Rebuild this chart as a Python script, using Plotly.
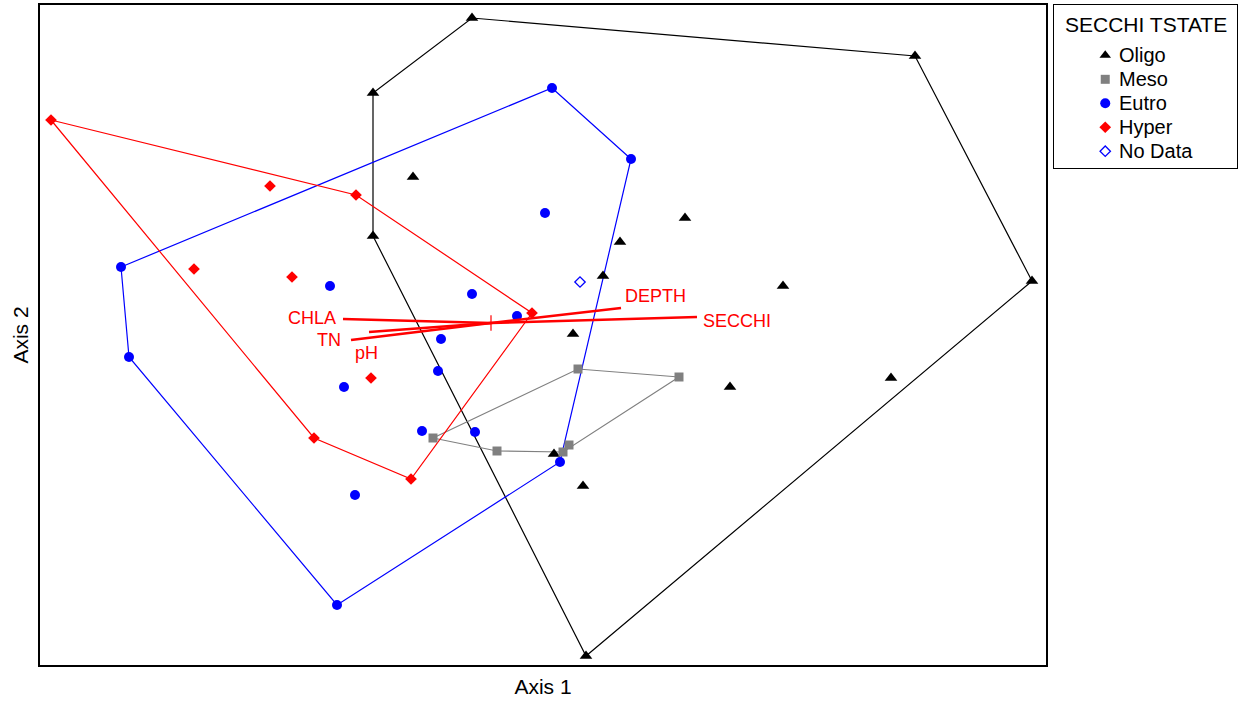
import plotly.graph_objects as go

# ---------------- data (site scores on the two ordination axes) ----------------
oligo_x = [3.33, 4.32, 8.75, 9.92, 5.46, 3.33, 3.73, 6.45, 5.80, 5.63, 7.43, 5.33, 6.90, 8.51, 5.14, 5.43]
oligo_y = [5.72, 6.47, 6.09, 3.84, 0.09, 4.29, 4.88, 4.47, 4.23, 3.89, 3.79, 3.31, 2.78, 2.87, 2.11, 1.79]

meso_x = [3.93, 5.38, 6.39, 5.29, 5.23, 4.57]
meso_y = [2.27, 2.96, 2.88, 2.20, 2.13, 2.14]

eutro_x = [5.12, 5.91, 5.20, 2.97, 0.89, 0.81, 5.05, 2.90, 4.32, 4.77, 4.01, 3.98, 3.04, 3.82, 4.35, 3.15]
eutro_y = [5.77, 5.06, 2.03, 0.60, 3.08, 3.98, 4.52, 3.79, 3.71, 3.49, 3.26, 2.94, 2.78, 2.34, 2.33, 1.70]

hyper_x = [0.11, 3.16, 4.92, 3.71, 2.74, 2.30, 1.54, 2.52, 3.31]
hyper_y = [5.45, 4.70, 3.52, 1.86, 2.27, 4.79, 3.96, 3.88, 2.87]

nodata_x = [5.40]
nodata_y = [3.83]

# biplot vectors (environmental variables)
centroid = (4.51, 3.42)
vec_names = ["CHLA", "TN", "pH", "DEPTH", "SECCHI"]
vec_x = [3.03, 3.11, 3.29, 5.81, 6.57]
vec_y = [3.46, 3.25, 3.33, 3.57, 3.48]

legend_title = "SECCHI TSTATE"
legend_labels = ["Oligo", "Meso", "Eutro", "Hyper", "No Data"]


def convex_hull(xs, ys):
    pts = sorted(set(zip(xs, ys)))
    if len(pts) < 3:
        return pts

    def cross(o, a, b):
        return (a[0] - o[0]) * (b[1] - o[1]) - (a[1] - o[1]) * (b[0] - o[0])

    lower, upper = [], []
    for p in pts:
        while len(lower) >= 2 and cross(lower[-2], lower[-1], p) <= 0:
            lower.pop()
        lower.append(p)
    for p in reversed(pts):
        while len(upper) >= 2 and cross(upper[-2], upper[-1], p) <= 0:
            upper.pop()
        upper.append(p)
    hull = lower[:-1] + upper[:-1]
    return hull + [hull[0]]


FONT = "Liberation Sans, Arial, sans-serif"
groups = [
    (oligo_x, oligo_y, "triangle-up", "#000000", 11),
    (meso_x, meso_y, "square", "#808080", 9),
    (eutro_x, eutro_y, "circle", "#0000FF", 10),
    (hyper_x, hyper_y, "diamond", "#FF0000", 9),
]
styles = [(g[2], g[3], g[4], 0) for g in groups] + [("diamond-open", "#0000FF", 8, 1.3)]

fig = go.Figure()

# hulls
for xs, ys, sym, col, sz in groups:
    h = convex_hull(xs, ys)
    fig.add_trace(go.Scatter(
        x=[p[0] for p in h], y=[p[1] for p in h], mode="lines",
        line=dict(color=col, width=1.2), hoverinfo="skip"))

# points
all_x = [g[0] for g in groups] + [nodata_x]
all_y = [g[1] for g in groups] + [nodata_y]
for xs, ys, (sym, col, sz, lw), nm in zip(all_x, all_y, styles, legend_labels):
    fig.add_trace(go.Scatter(
        x=xs, y=ys, mode="markers", name=nm,
        marker=dict(symbol=sym, color=col, size=sz, line=dict(width=lw, color=col))))

# vectors
for vx, vy in zip(vec_x, vec_y):
    fig.add_trace(go.Scatter(
        x=[centroid[0], vx], y=[centroid[1], vy], mode="lines",
        line=dict(color="#FF0000", width=2.6), hoverinfo="skip"))

fig.add_trace(go.Scatter(
    x=[centroid[0]], y=[centroid[1]], mode="markers",
    marker=dict(symbol="cross-thin", size=11, line=dict(color="#FF0000", width=1.2))))

label_style = {
    "CHLA": dict(xanchor="right", yanchor="middle", xshift=-5, yshift=1),
    "TN": dict(xanchor="right", yanchor="middle", xshift=-8, yshift=0),
    "pH": dict(xanchor="center", yanchor="middle", xshift=-3, yshift=-21),
    "DEPTH": dict(xanchor="left", yanchor="middle", xshift=2, yshift=12),
    "SECCHI": dict(xanchor="left", yanchor="middle", xshift=4, yshift=-4),
}
for nm, vx, vy in zip(vec_names, vec_x, vec_y):
    fig.add_annotation(x=vx, y=vy, text=nm, showarrow=False,
                       font=dict(color="#FF0000", size=18, family=FONT),
                       **label_style[nm])

# ---------------- legend box (drawn on its own small axis) ----------------
for i, ((sym, col, sz, lw), nm) in enumerate(zip(styles, legend_labels)):
    fig.add_trace(go.Scatter(
        x=[0.28], y=[i], xaxis="x2", yaxis="y2", mode="markers",
        marker=dict(symbol=sym, color=col, size=sz if sym != "triangle-up" else 10,
                    line=dict(width=lw, color=col)),
        hoverinfo="skip"))
    fig.add_annotation(x=0.345, y=i, xref="x2", yref="y2", text=nm, showarrow=False,
                       xanchor="left", yanchor="middle",
                       font=dict(size=20, family=FONT, color="black"))
fig.add_annotation(x=0.5, y=-1.3, xref="x2", yref="y2", text=legend_title, showarrow=False,
                   xanchor="center", yanchor="middle",
                   font=dict(size=21, family=FONT, color="black"))

axis_common = dict(showgrid=False, zeroline=False, showticklabels=False, ticks="",
                   showline=True, linecolor="black", mirror=True, automargin=False)

W_PLOT = 1197.0
fig.update_layout(
    width=1240, height=704,
    margin=dict(l=40, r=3, t=5, b=39),
    paper_bgcolor="white", plot_bgcolor="white",
    font=dict(family=FONT, color="black", size=19),
    showlegend=False,
    xaxis=dict(domain=[0, 1006 / W_PLOT], range=[0, 10.06], linewidth=2,
               title=dict(text="Axis 1", standoff=13, font=dict(size=21)), **axis_common),
    yaxis=dict(range=[0, 6.60], linewidth=2,
               title=dict(text="Axis 2", standoff=4, font=dict(size=21)), **axis_common),
    xaxis2=dict(domain=[1014 / W_PLOT, 1.0], range=[0, 1], linewidth=1.2,
                anchor="y2", **axis_common),
    yaxis2=dict(domain=[497 / 660.0, 1.0], range=[4.7, -2.1], linewidth=1.2,
                anchor="x2", **axis_common),
)

fig.write_html("out.html", config={"displayModeBar": False},
               post_script="document.body.style.margin='0';")
